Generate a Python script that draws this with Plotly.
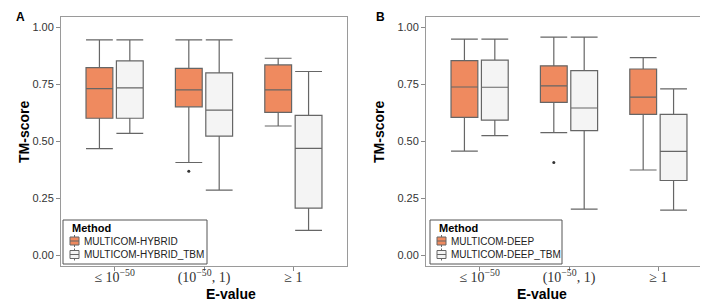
import plotly.graph_objects as go

categories = ["≤ 10<sup>−50</sup>", "(10<sup>−50</sup>, 1)", "≥ 1"]

# Panel A
a_hyb_low = [0.469, 0.408, 0.568]
a_hyb_q1 = [0.602, 0.652, 0.628]
a_hyb_med = [0.732, 0.726, 0.726]
a_hyb_q3 = [0.824, 0.821, 0.836]
a_hyb_up = [0.946, 0.946, 0.865]
a_hyb_out_cat = [1]
a_hyb_out_val = [0.369]

a_tbm_low = [0.536, 0.287, 0.110]
a_tbm_q1 = [0.602, 0.524, 0.208]
a_tbm_med = [0.735, 0.638, 0.470]
a_tbm_q3 = [0.854, 0.801, 0.615]
a_tbm_up = [0.946, 0.946, 0.807]

# Panel B
b_deep_low = [0.458, 0.539, 0.375]
b_deep_q1 = [0.606, 0.672, 0.619]
b_deep_med = [0.739, 0.744, 0.695]
b_deep_q3 = [0.855, 0.832, 0.818]
b_deep_up = [0.949, 0.958, 0.868]
b_deep_out_cat = [1]
b_deep_out_val = [0.408]

b_tbm_low = [0.526, 0.203, 0.199]
b_tbm_q1 = [0.594, 0.548, 0.329]
b_tbm_med = [0.738, 0.647, 0.457]
b_tbm_q3 = [0.857, 0.811, 0.619]
b_tbm_up = [0.949, 0.958, 0.731]

legend_a = ["MULTICOM-HYBRID", "MULTICOM-HYBRID_TBM"]
legend_b = ["MULTICOM-DEEP", "MULTICOM-DEEP_TBM"]

y_ticks = [0.0, 0.25, 0.5, 0.75, 1.0]
y_ticktext = ["0.00", "0.25", "0.50", "0.75", "1.00"]

ORANGE = "#EF8A5F"
GREY_FILL = "#F4F4F4"
FILLS = [ORANGE, GREY_FILL]
OFF = 0.17
BW = 0.30
W, H = 708, 303

fig = go.Figure()

def add_box(name, low, q1, med, q3, up, side, fill, xa, ya):
    pos = [i + 1 + side for i in range(len(categories))]
    fig.add_trace(go.Box(
        name=name, x=pos, lowerfence=low, q1=q1, median=med, q3=q3, upperfence=up,
        width=BW, whiskerwidth=1, fillcolor=fill,
        line=dict(color="#666666", width=1.2),
        boxpoints=False, xaxis=xa, yaxis=ya, showlegend=False, hoverinfo="skip",
    ))

def add_out(cat, val, side, xa, ya):
    fig.add_trace(go.Scatter(
        x=[c + 1 + side for c in cat], y=val, mode="markers",
        marker=dict(color="#333333", size=3), showlegend=False,
        xaxis=xa, yaxis=ya, hoverinfo="skip",
    ))

add_box(legend_a[0], a_hyb_low, a_hyb_q1, a_hyb_med, a_hyb_q3, a_hyb_up, -OFF, ORANGE, "x", "y")
add_box(legend_a[1], a_tbm_low, a_tbm_q1, a_tbm_med, a_tbm_q3, a_tbm_up, OFF, GREY_FILL, "x", "y")
add_out(a_hyb_out_cat, a_hyb_out_val, -OFF, "x", "y")

add_box(legend_b[0], b_deep_low, b_deep_q1, b_deep_med, b_deep_q3, b_deep_up, -OFF, ORANGE, "x2", "y2")
add_box(legend_b[1], b_tbm_low, b_tbm_q1, b_tbm_med, b_tbm_q3, b_tbm_up, OFF, GREY_FILL, "x2", "y2")
add_out(b_deep_out_cat, b_deep_out_val, -OFF, "x2", "y2")

ax_common = dict(showline=True, mirror=True, linecolor="#9a9a9a", linewidth=1,
                 showgrid=False, zeroline=False, ticks="outside", ticklen=4,
                 tickcolor="#8a8a8a", tickwidth=1)
xax = dict(ax_common, range=[0.4, 3.6], tickvals=[1, 2, 3], ticktext=categories,
           ticklabelstandoff=-6,
           tickfont=dict(family="Liberation Serif", size=14, color="#333333"))
yax = dict(ax_common, range=[-0.046, 1.046], tickvals=y_ticks, ticktext=y_ticktext,
           tickfont=dict(family="Liberation Sans, Arial", size=11, color="#333333"))

shapes = []
annotations = []

def px(x):
    return x / W

def py(y):
    return 1 - y / H

def custom_legend(x0, x1, names):
    y0, y1 = 212, 256
    shapes.append(dict(type="rect", xref="paper", yref="paper", x0=px(x0), x1=px(x1),
                       y0=py(y1), y1=py(y0), line=dict(color="#555555", width=1),
                       fillcolor="white", layer="above"))
    annotations.append(dict(text="<b>Method</b>", x=px(x0 + 7), y=py(220), xref="paper", yref="paper",
                            xanchor="left", yanchor="middle", showarrow=False,
                            font=dict(size=11, color="black")))
    for k, name in enumerate(names):
        yc = 233 + 13.5 * k
        sx0, sx1 = x0 + 7, x0 + 16
        shapes.append(dict(type="rect", xref="paper", yref="paper", x0=px(sx0), x1=px(sx1),
                           y0=py(yc + 4), y1=py(yc - 4), line=dict(color="#666666", width=1),
                           fillcolor=FILLS[k], layer="above"))
        shapes.append(dict(type="line", xref="paper", yref="paper", x0=px(sx0), x1=px(sx1),
                           y0=py(yc), y1=py(yc), line=dict(color="#666666", width=1), layer="above"))
        for a, b in [(yc - 6, yc - 4), (yc + 4, yc + 6)]:
            shapes.append(dict(type="line", xref="paper", yref="paper",
                               x0=px((sx0 + sx1) / 2), x1=px((sx0 + sx1) / 2),
                               y0=py(a), y1=py(b), line=dict(color="#666666", width=1), layer="above"))
        annotations.append(dict(text=name, x=px(sx1 + 3), y=py(yc), xref="paper", yref="paper",
                                xanchor="left", yanchor="middle", showarrow=False,
                                font=dict(size=10, color="#222222")))

custom_legend(55, 199, legend_a)
custom_legend(422, 554, legend_b)

annotations += [
    dict(text="<b>A</b>", x=px(6), y=py(0), xref="paper", yref="paper",
         xanchor="left", yanchor="top", showarrow=False, font=dict(size=12, color="black")),
    dict(text="<b>B</b>", x=px(366), y=py(0), xref="paper", yref="paper",
         xanchor="left", yanchor="top", showarrow=False, font=dict(size=12, color="black")),
    dict(text="<b>TM-score</b>", x=px(6), y=py(124), xref="paper", yref="paper",
         textangle=-90, showarrow=False, font=dict(size=14, color="black")),
    dict(text="<b>TM-score</b>", x=px(371), y=py(124), xref="paper", yref="paper",
         textangle=-90, showarrow=False, font=dict(size=14, color="black")),
    dict(text="<b>E-value</b>", x=px(196), y=py(296), xref="paper", yref="paper",
         showarrow=False, font=dict(size=14, color="black")),
    dict(text="<b>E-value</b>", x=px(561), y=py(296), xref="paper", yref="paper",
         showarrow=False, font=dict(size=14, color="black")),
]

ydom = [1 - 258 / H, 1 - 9 / H]
fig.update_layout(
    width=W, height=H, margin=dict(l=0, r=0, t=0, b=0),
    paper_bgcolor="white", plot_bgcolor="white", showlegend=False,
    font=dict(family="Liberation Sans, Arial", color="#222222"),
    xaxis=dict(xax, domain=[53 / W, 339 / W], anchor="y"),
    yaxis=dict(yax, domain=ydom, anchor="x"),
    xaxis2=dict(xax, domain=[418 / W, 704 / W], anchor="y2"),
    yaxis2=dict(yax, domain=ydom, anchor="x2"),
    shapes=shapes,
    annotations=annotations,
)

fig.write_html("out.html")
